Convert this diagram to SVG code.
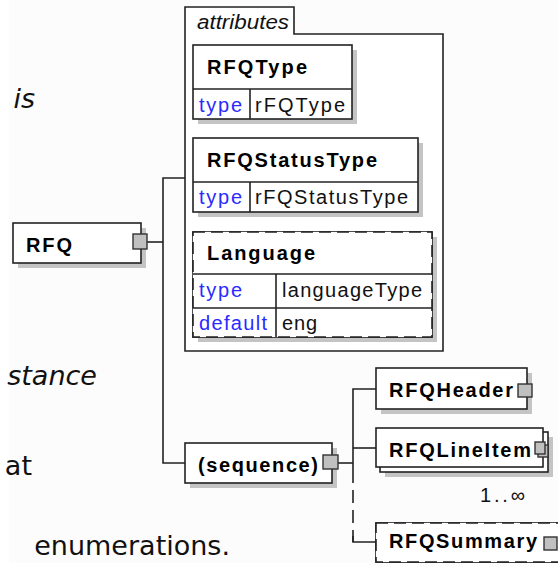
<svg xmlns="http://www.w3.org/2000/svg" width="558" height="563" viewBox="0 0 558 563">
<style>
.bg{font-family:"DejaVu Sans","Verdana",sans-serif;font-size:27px;fill:#111}
.it{font-style:italic}
.box{fill:#fff;stroke:#222;stroke-width:1.6}
.dash{stroke-dasharray:12 6}
.sh{fill:#c4c4c4}
.ln{fill:none;stroke:#222;stroke-width:1.6}
.pl{fill:#c0c0c0;stroke:#333;stroke-width:1.4}
.lbl{font-family:"Liberation Sans",Arial,sans-serif;font-size:20px;font-weight:bold;fill:#000}
.val{font-family:"Liberation Sans",Arial,sans-serif;font-size:20px;fill:#111}
.key{font-family:"Liberation Sans",Arial,sans-serif;font-size:20px;fill:#2a2aff}
.att{font-family:"Liberation Sans",Arial,sans-serif;font-size:20px;font-style:italic;fill:#111}
</style>
<rect x="0" y="0" width="558" height="563" fill="#ffffff"/>
<rect x="9" y="0" width="549" height="563" fill="#fcfcfc"/>
<g id="background-text">
<text class="bg it" x="35" y="108" text-anchor="end">is</text>
<text class="bg it" x="97" y="385" text-anchor="end">stance</text>
<text class="bg" x="32" y="475" text-anchor="end">at</text>
<text class="bg" x="230" y="555" text-anchor="end" font-size="26">enumerations.</text>
</g>
<g id="connectors">
<polyline class="ln" points="147,242 163,242"/>
<polyline class="ln" points="185,178 163,178 163,463 185,463"/>
<polyline class="ln" points="338,463 353,463"/>
<polyline class="ln" points="376,389 353,389 353,483"/>
<polyline class="ln" points="353,448 376,448"/>
<line class="ln" x1="353" y1="490" x2="353" y2="542" stroke-dasharray="13 7"/>
<polyline class="ln" points="353,536 353,542 376,542"/>
</g>
<g id="attributes">
<path class="box" d="M185,351 V7 H294 V34 H443 V351 Z"/>
<text class="att" x="197" y="29" textLength="92" lengthAdjust="spacingAndGlyphs">attributes</text>
</g>
<g id="RFQType">
<rect class="sh" x="198" y="50" width="159" height="74"/>
<rect class="box" x="193" y="45" width="159" height="74"/>
<line class="ln" x1="193" y1="89" x2="352" y2="89"/>
<line class="ln" x1="250" y1="89" x2="250" y2="119"/>
<text class="lbl" x="207" y="74" textLength="100" lengthAdjust="spacing">RFQType</text>
<text class="key" x="199" y="112" textLength="43" lengthAdjust="spacing">type</text>
<text class="val" x="255" y="112" textLength="90" lengthAdjust="spacing">rFQType</text>
</g>
<g id="RFQStatusType">
<rect class="sh" x="198" y="143" width="225" height="74"/>
<rect class="box" x="193" y="138" width="225" height="74"/>
<line class="ln" x1="193" y1="182" x2="418" y2="182"/>
<line class="ln" x1="250" y1="182" x2="250" y2="212"/>
<text class="lbl" x="207" y="167" textLength="170" lengthAdjust="spacing">RFQStatusType</text>
<text class="key" x="199" y="204" textLength="43" lengthAdjust="spacing">type</text>
<text class="val" x="255" y="204" textLength="153" lengthAdjust="spacing">rFQStatusType</text>
</g>
<g id="Language">
<rect class="sh" x="198" y="237" width="239" height="105"/>
<rect class="box" x="193" y="232" width="239" height="105" stroke="none"/>
<rect class="box dash" x="193" y="232" width="239" height="105" fill="none"/>
<line class="ln" x1="193" y1="274" x2="432" y2="274"/>
<line class="ln" x1="193" y1="308" x2="432" y2="308"/>
<line class="ln" x1="276" y1="274" x2="276" y2="337"/>
<text class="lbl" x="207" y="260" textLength="108" lengthAdjust="spacing">Language</text>
<text class="key" x="199" y="297" textLength="43" lengthAdjust="spacing">type</text>
<text class="val" x="282" y="297" textLength="140" lengthAdjust="spacing">languageType</text>
<text class="key" x="199" y="330" textLength="68" lengthAdjust="spacing">default</text>
<text class="val" x="282" y="330" textLength="35" lengthAdjust="spacing">eng</text>
</g>
<g id="RFQ">
<rect class="sh" x="18" y="228" width="128" height="40"/>
<rect class="box" x="13" y="223" width="128" height="40"/>
<text class="lbl" x="26" y="252" textLength="46" lengthAdjust="spacing">RFQ</text>
<rect class="pl" x="133" y="234" width="14" height="15"/>
</g>
<g id="sequence">
<rect class="sh" x="190" y="448" width="147" height="40"/>
<rect class="box" x="185" y="443" width="147" height="40"/>
<text class="lbl" x="198" y="472" textLength="120" lengthAdjust="spacing">(sequence)</text>
<rect class="pl" x="323" y="455" width="15" height="14"/>
</g>
<g id="RFQHeader">
<rect class="sh" x="381" y="373" width="151" height="41"/>
<rect class="box" x="376" y="368" width="151" height="41"/>
<text class="lbl" x="389" y="397" textLength="124" lengthAdjust="spacing">RFQHeader</text>
<rect class="pl" x="518" y="384" width="14" height="13"/>
</g>
<g id="RFQLineItem">
<rect class="sh" x="385" y="437" width="168" height="40"/>
<rect class="box" x="380" y="432" width="168" height="40"/>
<rect class="box" x="376" y="428" width="167" height="39"/>
<text class="lbl" x="389" y="457" textLength="142" lengthAdjust="spacing">RFQLineItem</text>
<rect class="pl" x="538" y="445" width="10" height="12"/>
<rect class="pl" x="535" y="442" width="10" height="12"/>
<text class="val" x="480" y="502" font-size="17" textLength="45" lengthAdjust="spacing">1..∞</text>
</g>
<g id="RFQSummary">
<rect class="sh" x="381" y="528" width="200" height="40"/>
<rect class="box" x="376" y="523" width="200" height="39" stroke="none"/>
<rect class="box dash" x="376" y="523" width="200" height="39" fill="none"/>
<text class="lbl" x="389" y="548" textLength="148" lengthAdjust="spacing">RFQSummary</text>
<rect class="pl" x="544" y="537" width="13" height="13"/>
</g>
</svg>
